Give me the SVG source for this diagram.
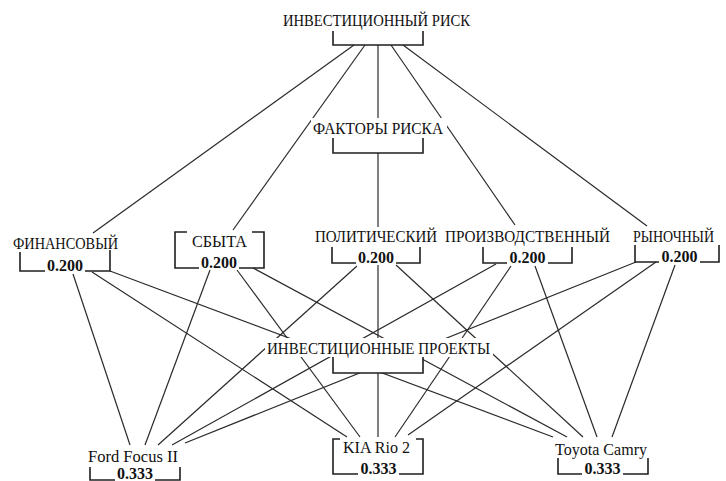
<svg xmlns="http://www.w3.org/2000/svg" width="726" height="481" viewBox="0 0 726 481">
<style>
.bg{fill:#ffffff}
.t{font-family:"Liberation Serif","Times New Roman",serif;font-size:16px;fill:#111111}
.n{font-family:"Liberation Serif","Times New Roman",serif;font-size:16px;font-weight:bold;fill:#111111;text-anchor:middle}
.br{fill:none;stroke:#1f1f1f;stroke-width:1.6}
.c line{stroke:#2a2a2a;stroke-width:1.2}
</style>
<rect class="bg" x="0" y="0" width="726" height="481"/>
<g id="connectors" class="c">
  <line x1="354" y1="45" x2="93" y2="233"/>
  <line x1="365" y1="45" x2="233" y2="230"/>
  <line x1="378" y1="45" x2="378" y2="227"/>
  <line x1="391" y1="45" x2="515" y2="225"/>
  <line x1="403" y1="45" x2="647" y2="226"/>
  <line x1="73" y1="274" x2="130" y2="445"/>
  <line x1="92" y1="272" x2="347" y2="437"/>
  <line x1="110" y1="271" x2="553" y2="437"/>
  <line x1="210" y1="270" x2="145" y2="445"/>
  <line x1="237" y1="270" x2="360" y2="437"/>
  <line x1="253" y1="268" x2="567" y2="437"/>
  <line x1="357" y1="266" x2="158" y2="445"/>
  <line x1="378" y1="265" x2="378" y2="437"/>
  <line x1="396" y1="265" x2="583" y2="437"/>
  <line x1="496" y1="264" x2="172" y2="445"/>
  <line x1="511" y1="266" x2="395" y2="437"/>
  <line x1="535" y1="266" x2="597" y2="437"/>
  <line x1="636" y1="262" x2="185" y2="443"/>
  <line x1="656" y1="262" x2="408" y2="435"/>
  <line x1="675" y1="265" x2="612" y2="437"/>
</g>
<g id="node-goal">
  <text class="t" x="283" y="25.5" textLength="187" lengthAdjust="spacingAndGlyphs">ИНВЕСТИЦИОННЫЙ РИСК</text>
  <path class="br" d="M333,31 V45 H423 V31"/>
</g>
<g id="node-factors">
  <rect class="bg" x="311" y="118" width="136" height="19"/>
  <rect class="bg" x="333" y="137" width="90" height="16"/>
  <text class="t" x="313" y="133.5" textLength="130" lengthAdjust="spacingAndGlyphs">ФАКТОРЫ РИСКА</text>
  <path class="br" d="M333,138 V153 H423 V138"/>
</g>
<g id="node-finance">
  <text class="t" x="13" y="248.5" textLength="105" lengthAdjust="spacingAndGlyphs">ФИНАНСОВЫЙ</text>
  <path class="br" d="M20,252 V271 H45 M85,271 H110 V250"/>
  <text class="n" x="65" y="271">0.200</text>
</g>
<g id="node-sales">
  <text class="t" x="192" y="246.5" textLength="55" lengthAdjust="spacingAndGlyphs">СБЫТА</text>
  <path class="br" d="M187,232 H175 V268 H199 M239,268 H264 V232 H252"/>
  <text class="n" x="219" y="268">0.200</text>
</g>
<g id="node-political">
  <text class="t" x="315" y="242" textLength="122" lengthAdjust="spacingAndGlyphs">ПОЛИТИЧЕСКИЙ</text>
  <path class="br" d="M332,247 V263 H356 M396,263 H420 V247"/>
  <text class="n" x="376" y="263">0.200</text>
</g>
<g id="node-production">
  <text class="t" x="445" y="242" textLength="165" lengthAdjust="spacingAndGlyphs">ПРОИЗВОДСТВЕННЫЙ</text>
  <path class="br" d="M483,247 V263 H507 M548,263 H572 V247"/>
  <text class="n" x="527.5" y="263">0.200</text>
</g>
<g id="node-market">
  <text class="t" x="633" y="241.5" textLength="81" lengthAdjust="spacingAndGlyphs">РЫНОЧНЫЙ</text>
  <path class="br" d="M635,245 V262 H659 M700,262 H719 V245"/>
  <text class="n" x="679.5" y="262">0.200</text>
</g>
<g id="node-projects">
  <rect class="bg" x="265" y="338" width="228" height="19"/>
  <rect class="bg" x="333" y="357" width="90" height="16"/>
  <text class="t" x="267" y="353.5" textLength="223" lengthAdjust="spacingAndGlyphs">ИНВЕСТИЦИОННЫЕ ПРОЕКТЫ</text>
  <path class="br" d="M333,357 V373 H423 V357"/>
</g>
<g id="node-ford">
  <text class="t" x="88" y="462" textLength="90" lengthAdjust="spacingAndGlyphs">Ford Focus II</text>
  <path class="br" d="M90,467 V480 H115 M155,480 H180 V467"/>
  <text class="n" x="135" y="479">0.333</text>
</g>
<g id="node-kia">
  <text class="t" x="343" y="453" textLength="67" lengthAdjust="spacingAndGlyphs">KIA Rio 2</text>
  <path class="br" d="M340,439 H333 V474 H358 M399,474 H423 V439 H416"/>
  <text class="n" x="378.5" y="474">0.333</text>
</g>
<g id="node-toyota">
  <text class="t" x="555" y="455" textLength="92" lengthAdjust="spacingAndGlyphs">Toyota Camry</text>
  <path class="br" d="M558,458 V474 H582 M623,474 H648 V458"/>
  <text class="n" x="602.5" y="474">0.333</text>
</g>
</svg>
